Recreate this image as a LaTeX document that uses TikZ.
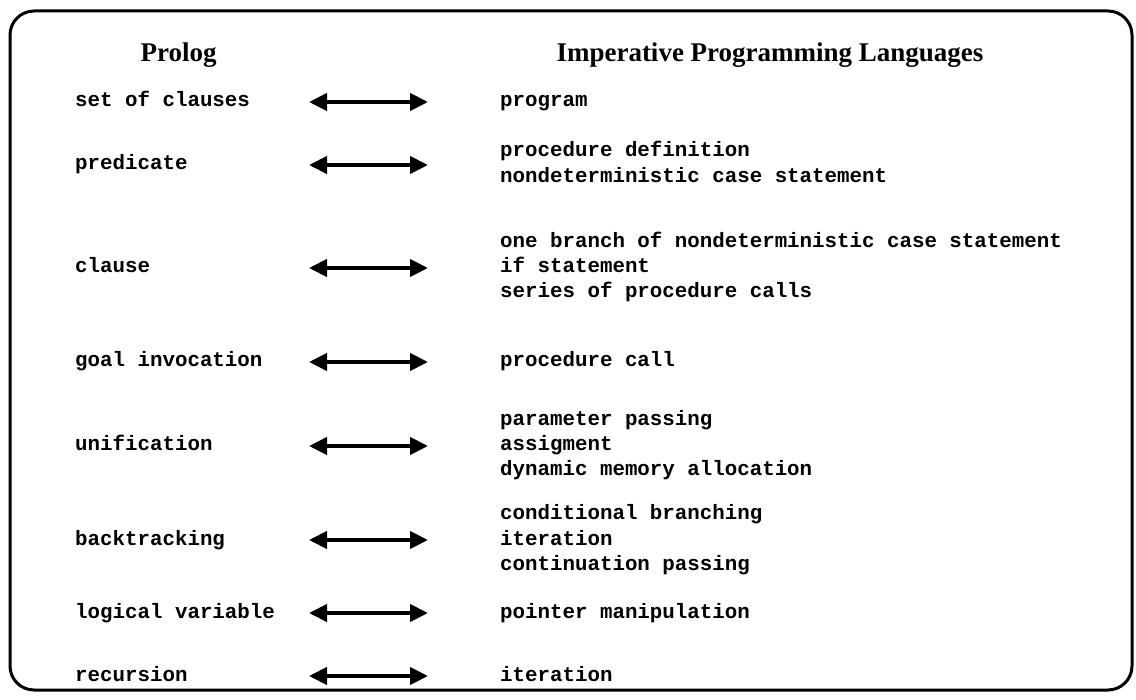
\documentclass[tikz,border=0pt]{standalone}
\usepackage{fontspec}
\setmainfont{Liberation Serif}
\setmonofont{Liberation Mono}
\usetikzlibrary{arrows.meta}

\tikzset{
  head/.style={font=\fontsize{27}{27}\selectfont\bfseries, inner sep=0pt, anchor=base},
  term/.style={font=\fontsize{20.8}{25}\selectfont\ttfamily\bfseries, inner sep=0pt, anchor=base west},
  corr/.style={line width=4pt, {Triangle[length=18pt,width=17pt]}-{Triangle[length=18pt,width=17pt]}},
  frame/.style={line width=3pt, rounded corners=24pt}
}

\begin{document}
\begin{tikzpicture}[x=1pt,y=-1pt]
\useasboundingbox (0,0) rectangle (1136,700);
\draw[frame] (10,11) rectangle (1132,690);

% column headings
\node[head] (hl) at (178.5,62) {Prolog};
\node[head] (hr) at (770,62) {Imperative Programming Languages};

% left column: Prolog concepts (x = text start, y = baseline)
\node[term] (l1) at (75,107) {set of clauses};
\node[term] (l2) at (75,170) {predicate};
\node[term] (l3) at (75,273) {clause};
\node[term] (l4) at (75,367) {goal invocation};
\node[term] (l5) at (75,451) {unification};
\node[term] (l6) at (75,545) {backtracking};
\node[term] (l7) at (75,618) {logical variable};
\node[term] (l8) at (75,681) {recursion};

% right column: imperative counterparts
\node[term] (r1)  at (500,107) {program};
\node[term] (r2a) at (500,157) {procedure definition};
\node[term] (r2b) at (500,183) {nondeterministic case statement};
\node[term] (r3a) at (500,248) {one branch of nondeterministic case statement};
\node[term] (r3b) at (500,273) {if statement};
\node[term] (r3c) at (500,298) {series of procedure calls};
\node[term] (r4)  at (500,367) {procedure call};
\node[term] (r5a) at (500,426) {parameter passing};
\node[term] (r5b) at (500,451) {assigment};
\node[term] (r5c) at (500,476) {dynamic memory allocation};
\node[term] (r6a) at (500,519) {conditional branching};
\node[term] (r6b) at (500,545) {iteration};
\node[term] (r6c) at (500,570) {continuation passing};
\node[term] (r7)  at (500,618) {pointer manipulation};
\node[term] (r8)  at (500,681) {iteration};

% double-headed correspondence arrows
\foreach \i/\y in {1/102,2/165,3/268,4/362,5/446,6/540,7/613,8/676} {
  \coordinate (a\i) at (309,\y);
  \coordinate (b\i) at (428,\y);
  \draw[corr] (a\i) -- (b\i);
}
\end{tikzpicture}
\end{document}
